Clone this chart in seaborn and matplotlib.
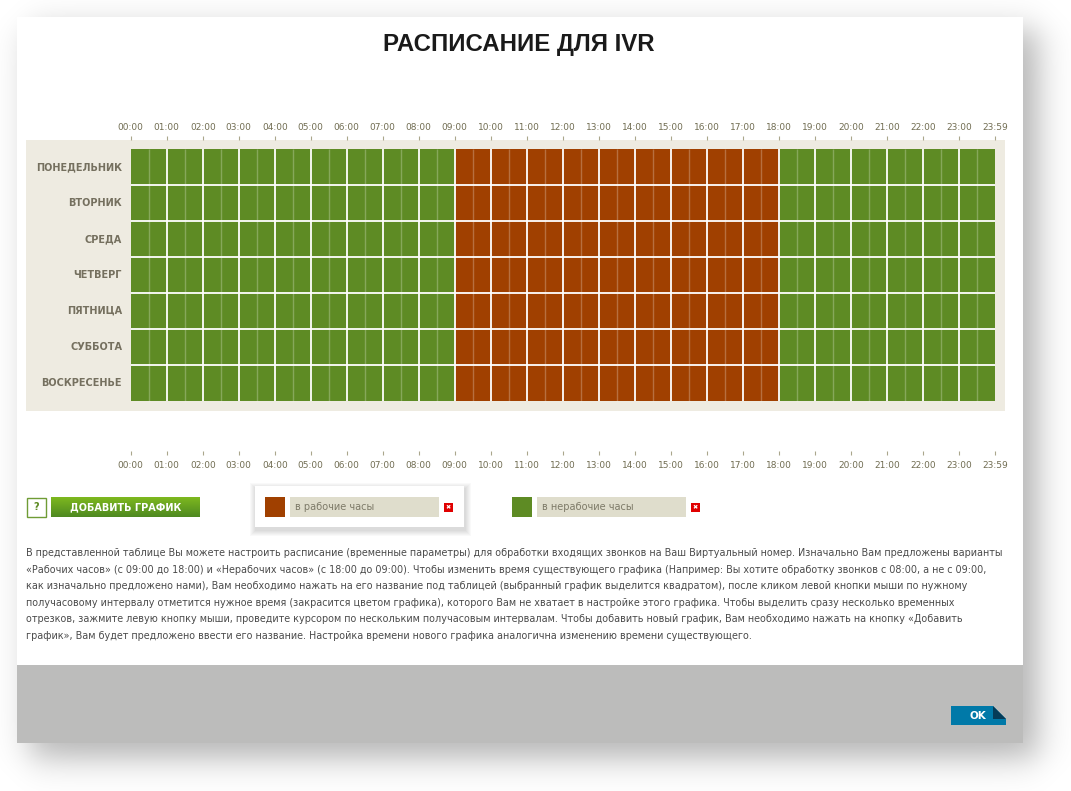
import numpy as np
import pandas as pd
import matplotlib
matplotlib.use("Agg")
import matplotlib.pyplot as plt
from matplotlib.colors import ListedColormap
from matplotlib.patches import Rectangle, Polygon
import seaborn as sns

# --- data ---
title = "РАСПИСАНИЕ ДЛЯ IVR"
days = ["ПОНЕДЕЛЬНИК", "ВТОРНИК", "СРЕДА", "ЧЕТВЕРГ", "ПЯТНИЦА", "СУББОТА", "ВОСКРЕСЕНЬЕ"]
hour_labels = ["00:00", "01:00", "02:00", "03:00", "04:00", "05:00", "06:00", "07:00",
               "08:00", "09:00", "10:00", "11:00", "12:00", "13:00", "14:00", "15:00",
               "16:00", "17:00", "18:00", "19:00", "20:00", "21:00", "22:00", "23:00", "23:59"]
work_start = "09:00"
work_end = "18:00"
legend_names = ["в рабочие часы", "в нерабочие часы"]
add_button = "ДОБАВИТЬ ГРАФИК"
help_text = [
    "В представленной таблице Вы можете настроить расписание (временные параметры) для обработки входящих звонков на Ваш Виртуальный номер. Изначально Вам предложены варианты",
    "«Рабочих часов» (с 09:00 до 18:00) и «Нерабочих часов» (с 18:00 до 09:00). Чтобы изменить время существующего графика (Например: Вы хотите обработку звонков с 08:00, а не с 09:00,",
    "как изначально предложено нами), Вам необходимо нажать на его название под таблицей (выбранный график выделится квадратом), после кликом левой кнопки мыши по нужному",
    "получасовому интервалу отметится нужное время (закрасится цветом графика), которого Вам не хватает в настройке этого графика. Чтобы выделить сразу несколько временных",
    "отрезков, зажмите левую кнопку мыши, проведите курсором по нескольким получасовым интервалам. Чтобы добавить новый график, Вам необходимо нажать на кнопку «Добавить",
    "график», Вам будет предложено ввести его название. Настройка времени нового графика аналогична изменению времени существующего.",
]

GREEN = "#5e8b24"
BROWN = "#a04000"
BEIGE = "#eeebe1"

# half-hour slots, 1 = working hours
slots = [f"{h:02d}:{m:02d}" for h in range(24) for m in (0, 30)]
schedule = pd.DataFrame(
    [[1 if work_start <= s < work_end else 0 for s in slots] for _ in days],
    index=days, columns=slots)

W, H = 1071, 791
fig = plt.figure(figsize=(W / 100, H / 100), dpi=100)
fig.patch.set_facecolor("white")

# page layer in pixel coordinates
bg = fig.add_axes([0, 0, 1, 1])
bg.set_xlim(0, W)
bg.set_ylim(H, 0)
bg.axis("off")

# soft drop shadow of the dialog
yy, xx = np.mgrid[0:H, 0:W] + 0.5
def ramp(v, a, b, s):
    return 1 / (1 + np.exp(-(v - a) / s)) / (1 + np.exp((v - b) / s))
shadow = np.zeros((H, W, 4))
shadow[..., 3] = 0.30 * ramp(xx, 30, 1038, 10) * ramp(yy, 30, 758, 10)
bg.imshow(shadow, extent=(0, W, H, 0), zorder=0, interpolation="bilinear")

bg.add_patch(Rectangle((17, 17), 1006, 726, facecolor="white", edgecolor="none", zorder=1))
bg.add_patch(Rectangle((17, 665), 1006, 78, facecolor="#bcbcbb", edgecolor="none", zorder=2))

bg.text(519, 45, title, ha="center", va="center", fontsize=17.3, fontweight="bold",
        family="Liberation Sans", color="#1a1a1a", zorder=3)

# "?" box and add button
bg.add_patch(Rectangle((26.5, 497.5), 19, 19, facecolor="white", edgecolor="#6f9c35", lw=1, zorder=3))
bg.text(36, 507.5, "?", ha="center", va="center", fontsize=7, fontweight="bold",
        color="#5e8b24", zorder=4)
grad = np.linspace(0, 1, 20)[:, None, None]
top_c = np.array([0.49, 0.72, 0.12])
bot_c = np.array([0.31, 0.54, 0.13])
bg.imshow(np.repeat(top_c * (1 - grad) + bot_c * grad, 2, axis=1),
          extent=(51, 200, 517, 497), aspect="auto", zorder=3)
bg.text(125.5, 507.5, add_button, ha="center", va="center", fontsize=7, fontweight="bold",
        color="white", zorder=4)

# legend popup for the selected schedule
for i in range(1, 7):
    bg.add_patch(Rectangle((255 - i + 1, 486 - i + 3), 209 + 2 * i, 41 + 2 * i,
                           facecolor="black", alpha=0.025, edgecolor="none", zorder=3))
bg.add_patch(Rectangle((255, 486), 209, 41, facecolor="white", edgecolor="none", zorder=3))

for x0, col, name in [(265, BROWN, legend_names[0]), (512, GREEN, legend_names[1])]:
    bg.add_patch(Rectangle((x0, 497), 20, 20, facecolor=col, edgecolor="none", zorder=4))
    bg.add_patch(Rectangle((x0 + 25, 497), 149, 20, facecolor="#dfddcc", edgecolor="none", zorder=4))
    bg.text(x0 + 30, 507.5, name, ha="left", va="center", fontsize=7, color="#7d7a68", zorder=5)
    bg.add_patch(Rectangle((x0 + 179, 503), 9, 9, facecolor="#e00000", edgecolor="none", zorder=4))
    bg.text(x0 + 183.5, 507.7, "✖", ha="center", va="center", fontsize=4.5, color="white", zorder=5)

# help paragraph
for i, line in enumerate(help_text):
    bg.text(26, 553 + i * 16.6, line, ha="left", va="center", fontsize=6.9,
            color="#4a4a4a", zorder=3)

# OK button with folded corner
bg.add_patch(Polygon([(951, 706), (993, 706), (1006, 719), (1006, 725), (951, 725)],
                     closed=True, facecolor="#0079a8", edgecolor="none", zorder=3))
bg.add_patch(Polygon([(993, 706), (1006, 719), (993, 719)], closed=True,
                     facecolor="#053c58", edgecolor="none", zorder=4))
bg.text(978, 716, "OK", ha="center", va="center", fontsize=7.5, fontweight="bold",
        color="white", zorder=4)

# --- schedule grid ---
ax = fig.add_axes([26 / W, 1 - 411 / H, 979 / W, 271 / H])
sns.heatmap(schedule, ax=ax, cmap=ListedColormap([GREEN, BROWN]), vmin=0, vmax=1,
            cbar=False, xticklabels=False, yticklabels=False, linewidths=0)
n_rows, n_cols = schedule.shape
ax.vlines(range(2, n_cols, 2), 0, n_rows, colors="white", lw=1.3)
ax.vlines(range(1, n_cols, 2), 0, n_rows, colors="white", lw=1, alpha=0.25)
ax.hlines(range(1, n_rows), 0, n_cols, colors="white", lw=1.3)
ax.set_xlim(-5.82, n_cols + 0.57)
ax.set_ylim(n_rows + 0.28, -0.25)
ax.set_facecolor(BEIGE)
for s in ax.spines.values():
    s.set_visible(False)
ax.set_ylabel("")
ax.set_xlabel("")
ax.set_yticks([])

for i, d in enumerate(days):
    ax.text(-0.48, i + 0.5, d, ha="right", va="center", fontsize=7, fontweight="bold",
            color="#75705f")

tick_pos = np.arange(len(hour_labels)) * 2
ax.xaxis.tick_top()
ax.set_xticks(tick_pos, labels=hour_labels)
ax.tick_params(axis="x", direction="out", length=3, width=0.8, color="#aaa68c",
               labelsize=6.5, labelcolor="#716d52", pad=3, rotation=0)

sec = ax.secondary_xaxis(-40 / 271)
sec.set_ticks(tick_pos, labels=hour_labels)
sec.tick_params(direction="out", length=3, width=0.8, color="#aaa68c",
                labelsize=6.5, labelcolor="#716d52", pad=4)
for s in sec.spines.values():
    s.set_visible(False)

fig.savefig("out.png", dpi=100)
